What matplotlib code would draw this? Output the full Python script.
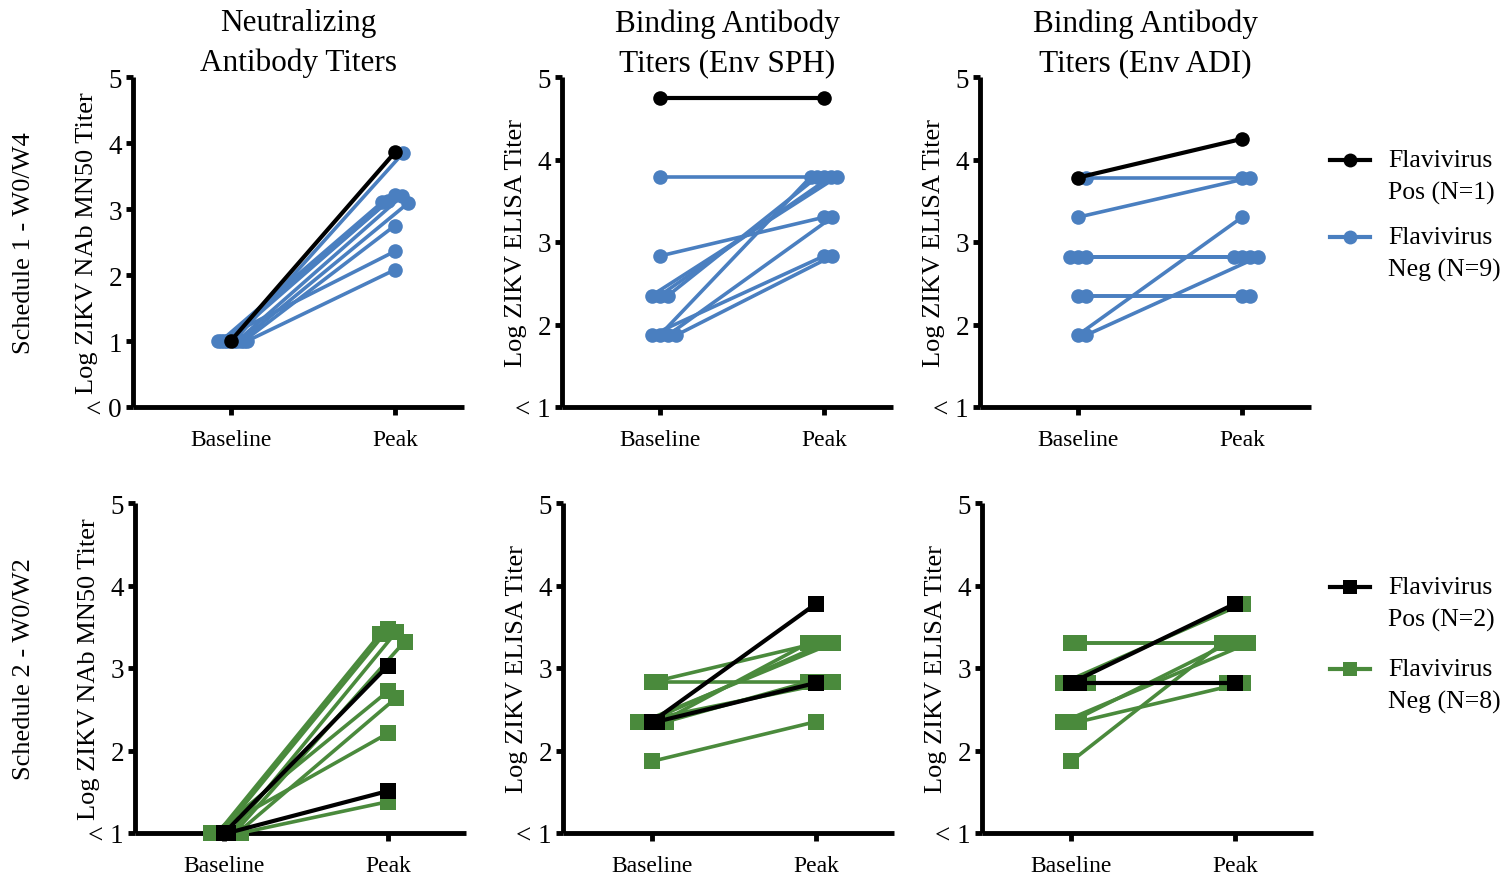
import matplotlib
matplotlib.use("Agg")
import matplotlib.pyplot as plt
from matplotlib.lines import Line2D

# each tuple is one subject: (baseline, peak) log titer
s1_nab_pos = [(1.0, 3.86)]
s1_nab_neg = [(1.0, 3.85), (1.0, 3.21), (1.0, 3.19), (1.0, 3.12), (1.0, 3.09),
              (1.0, 3.10), (1.0, 2.75), (1.0, 2.36), (1.0, 2.08)]
s1_sph_pos = [(4.74, 4.74)]
s1_sph_neg = [(3.79, 3.79), (2.83, 3.30), (2.35, 3.79), (2.35, 3.79), (2.35, 3.79),
              (1.87, 3.79), (1.87, 3.30), (1.87, 2.83), (1.87, 2.83)]
s1_adi_pos = [(3.78, 4.25)]
s1_adi_neg = [(3.78, 3.78), (3.30, 3.78), (2.82, 2.82), (2.82, 2.82), (2.82, 2.82),
              (2.35, 2.35), (2.35, 2.35), (1.87, 3.30), (1.87, 2.82)]

s2_nab_pos = [(1.0, 3.03), (1.0, 1.51)]
s2_nab_neg = [(1.0, 3.47), (1.0, 3.44), (1.0, 3.41), (1.0, 3.32), (1.0, 2.72),
              (1.0, 2.64), (1.0, 2.21), (1.0, 1.38)]
s2_sph_pos = [(2.35, 3.78), (2.35, 2.82)]
s2_sph_neg = [(2.83, 3.30), (2.83, 2.83), (2.35, 3.30), (2.35, 3.30), (2.35, 3.30),
              (2.35, 2.83), (2.35, 2.83), (1.87, 2.35)]
s2_adi_pos = [(2.82, 3.78), (2.82, 2.82)]
s2_adi_neg = [(3.30, 3.30), (3.30, 3.30), (2.82, 3.78), (2.35, 3.30), (2.35, 2.82),
              (2.35, 3.30), (1.87, 3.30), (2.82, 2.82)]

timepoints = ["Baseline", "Peak"]
titles = ["Neutralizing\nAntibody Titers", "Binding Antibody\nTiters (Env SPH)",
          "Binding Antibody\nTiters (Env ADI)"]
ylabels = ["Log ZIKV NAb MN50 Titer", "Log ZIKV ELISA Titer", "Log ZIKV ELISA Titer"]
row_labels = ["Schedule 1 - W0/W4", "Schedule 2 - W0/W2"]
legend_s1 = ["Flavivirus\nPos (N=1)", "Flavivirus\nNeg (N=9)"]
legend_s2 = ["Flavivirus\nPos (N=2)", "Flavivirus\nNeg (N=8)"]

BLUE = "#4a7fc0"
GREEN = "#4a8a3c"
BLACK = "#000000"
FONT = "Liberation Serif"

plt.rcParams["font.family"] = FONT


def swarm(vals, tol=0.1, step=0.05, spread=0.2):
    # spread points that sit on (nearly) the same value sideways
    order = sorted(range(len(vals)), key=lambda i: (vals[i], i))
    groups, cur = [], [order[0]]
    for i in order[1:]:
        if abs(vals[i] - vals[cur[-1]]) <= tol:
            cur.append(i)
        else:
            groups.append(cur)
            cur = [i]
    groups.append(cur)
    offs = [0.0] * len(vals)
    for g in groups:
        g = sorted(g)
        s = min(step, spread / len(g))
        for k, i in enumerate(g):
            n = (k + 1) // 2
            offs[i] = n * s if k % 2 == 1 else -n * s
    return offs


def panel(ax, pos, neg, neg_color, marker, ms, ymin, xlim):
    subjects = pos + neg
    colors = [BLACK] * len(pos) + [neg_color] * len(neg)
    base = [s[0] for s in subjects]
    peak = [s[1] for s in subjects]
    ob = swarm(base)
    op = swarm(peak)
    # negatives first so the black lines sit on top
    idx = list(range(len(pos), len(subjects))) + list(range(len(pos)))
    for i in idx:
        lw = 3.0 if colors[i] == BLACK else 2.6
        ax.plot([0 + ob[i], 1 + op[i]], [base[i], peak[i]], color=colors[i],
                lw=lw, marker=marker, ms=ms, mew=0, clip_on=False, zorder=3)
    ax.set_xlim(*xlim)
    ax.set_ylim(ymin, 5)
    ax.set_xticks([0, 1])
    ax.set_xticklabels(timepoints)
    ticks = list(range(int(ymin), 6))
    ax.set_yticks(ticks)
    ax.set_yticklabels(["< %d" % ticks[0]] + [str(t) for t in ticks[1:]])
    for sp in ["top", "right"]:
        ax.spines[sp].set_visible(False)
    for sp in ["left", "bottom"]:
        ax.spines[sp].set_linewidth(3.5)
        ax.spines[sp].set_capstyle("butt")
    ax.tick_params(axis="both", width=3.5, colors="black")
    ax.tick_params(axis="x", length=6, pad=10, labelsize=17)
    ax.tick_params(axis="y", length=5, pad=3, labelsize=19.5)


W, H = 1511, 879
fig = plt.figure(figsize=(W / 100, H / 100), dpi=100)

row_data = [
    [(s1_nab_pos, s1_nab_neg), (s1_sph_pos, s1_sph_neg), (s1_adi_pos, s1_adi_neg)],
    [(s2_nab_pos, s2_nab_neg), (s2_sph_pos, s2_sph_neg), (s2_adi_pos, s2_adi_neg)],
]
row_top = [78, 504]
row_left = [[133, 562, 980], [135, 563, 982]]
row_xlim = [(-0.595, 1.42), (-0.545, 1.475)]
ax_w, ax_h = 331, 330

for r in range(2):
    color = BLUE if r == 0 else GREEN
    marker = "o" if r == 0 else "s"
    ms = 10.5 if r == 0 else 11
    for c in range(3):
        left = row_left[r][c]
        ax = fig.add_axes([left / W, 1 - (row_top[r] + ax_h) / H, ax_w / W, ax_h / H])
        ymin = 0 if (r == 0 and c == 0) else 1
        pos, neg = row_data[r][c]
        panel(ax, pos, neg, color, marker, ms, ymin, row_xlim[r])
        ax.set_ylabel(ylabels[c], fontsize=19)
        ax.yaxis.set_label_coords(-0.105, 0.5)
        if r == 0:
            ax.set_title(titles[c], fontsize=22.5, pad=-3, linespacing=1.45)
    fig.text(24 / W, 1 - (row_top[r] + ax_h / 2) / H, row_labels[r], rotation=90,
             ha="center", va="center", fontsize=19)

# legends drawn by hand so each key lines up with the first line of its label
def key(y, color, marker, label):
    fig.add_artist(Line2D([1330 / W, 1370 / W], [1 - y / H, 1 - y / H], color=color,
                          lw=3, transform=fig.transFigure))
    fig.add_artist(Line2D([1350 / W], [1 - y / H], color=color, marker=marker, ms=10,
                          mew=0, transform=fig.transFigure))
    l1, l2 = label.split("\n")
    fig.text(1388 / W, 1 - y / H, l1, ha="left", va="center", fontsize=18.5)
    fig.text(1388 / W, 1 - (y + 32) / H, l2, ha="left", va="center", fontsize=18.5)


key(161, BLACK, "o", legend_s1[0])
key(238, BLUE, "o", legend_s1[1])
key(588, BLACK, "s", legend_s2[0])
key(670, GREEN, "s", legend_s2[1])

fig.savefig("out.png", dpi=100)
